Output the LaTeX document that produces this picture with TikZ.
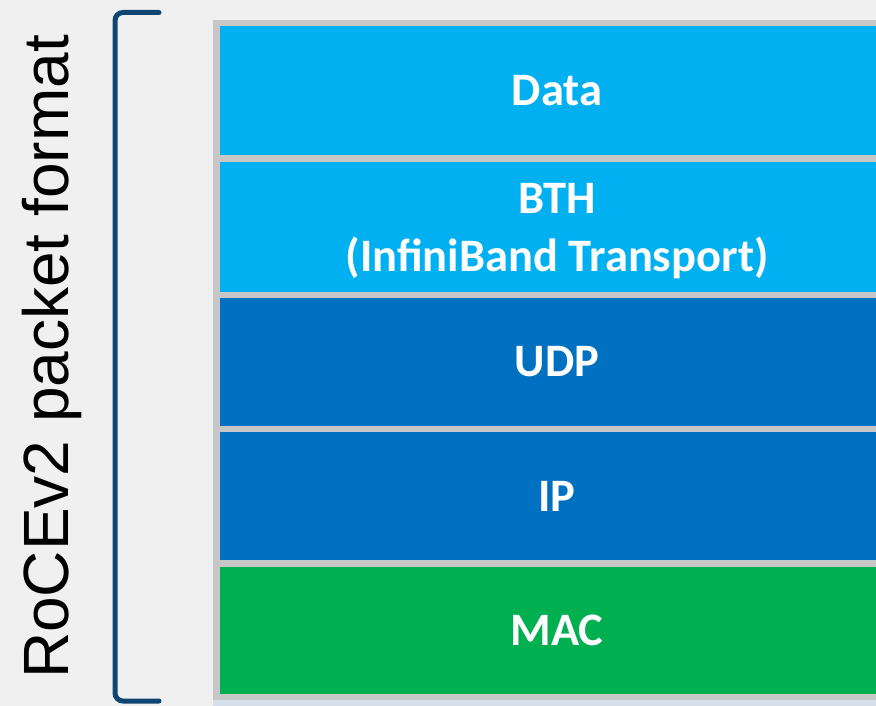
\documentclass[tikz,border=0pt]{standalone}
\usepackage{fontspec}
\setmainfont{Carlito}
\newfontfamily\titlefont{Liberation Sans}

\definecolor{paper}{HTML}{F0F0F0}
\definecolor{frameGray}{HTML}{C7C7C7}
\definecolor{frameShade}{HTML}{D6DFE9}
\definecolor{lightBlue}{HTML}{00B0F0}
\definecolor{darkBlue}{HTML}{0070C0}
\definecolor{macGreen}{HTML}{00B050}
\definecolor{braceBlue}{HTML}{0F4573}

\begin{document}
\begin{tikzpicture}[x=1pt, y=-1pt, line join=round, line cap=round,
    layertext/.style={inner sep=0pt, text=white, align=center,
      font=\fontsize{46.5}{58}\selectfont\bfseries},
    layer/.style={layertext, minimum width=674pt, minimum height=129pt}]
  \useasboundingbox (0,0) rectangle (876,706);
  \fill[paper] (0,0) rectangle (876,706);
  \clip (0,0) rectangle (876,706);

  % grey frame behind the stack
  \fill[frameGray] (213,20) rectangle (900,700);
  \fill[frameShade] (213,700) rectangle (900,706);

  % protocol layers, top to bottom
  \node[layer, fill=lightBlue] (data) at (557,90.5) {Data};
  \node[layer, fill=lightBlue, minimum height=130pt] (bth) at (557,227) {};
  \node[layertext] (bthtext) at ([yshift=-4pt]bth.center) {BTH\\(InfiniBand Transport)};
  \node[layer, fill=darkBlue, minimum height=128pt] (udp) at (557,362) {UDP};
  \node[layer, fill=darkBlue, minimum height=128pt] (ip) at (557,496) {IP};
  \node[layer, fill=macGreen, minimum height=127pt] (mac) at (557,630.5) {MAC};

  % bracket and side label
  \draw[braceBlue, line width=5pt, rounded corners=8pt]
    (159,12.5) -- (115,12.5) -- (115,701) -- (159,701);
  \node[rotate=90, inner sep=0pt, font=\titlefont\fontsize{64}{64}\selectfont] (title) at (52,357) {RoCEv2 packet format};
\end{tikzpicture}
\end{document}
